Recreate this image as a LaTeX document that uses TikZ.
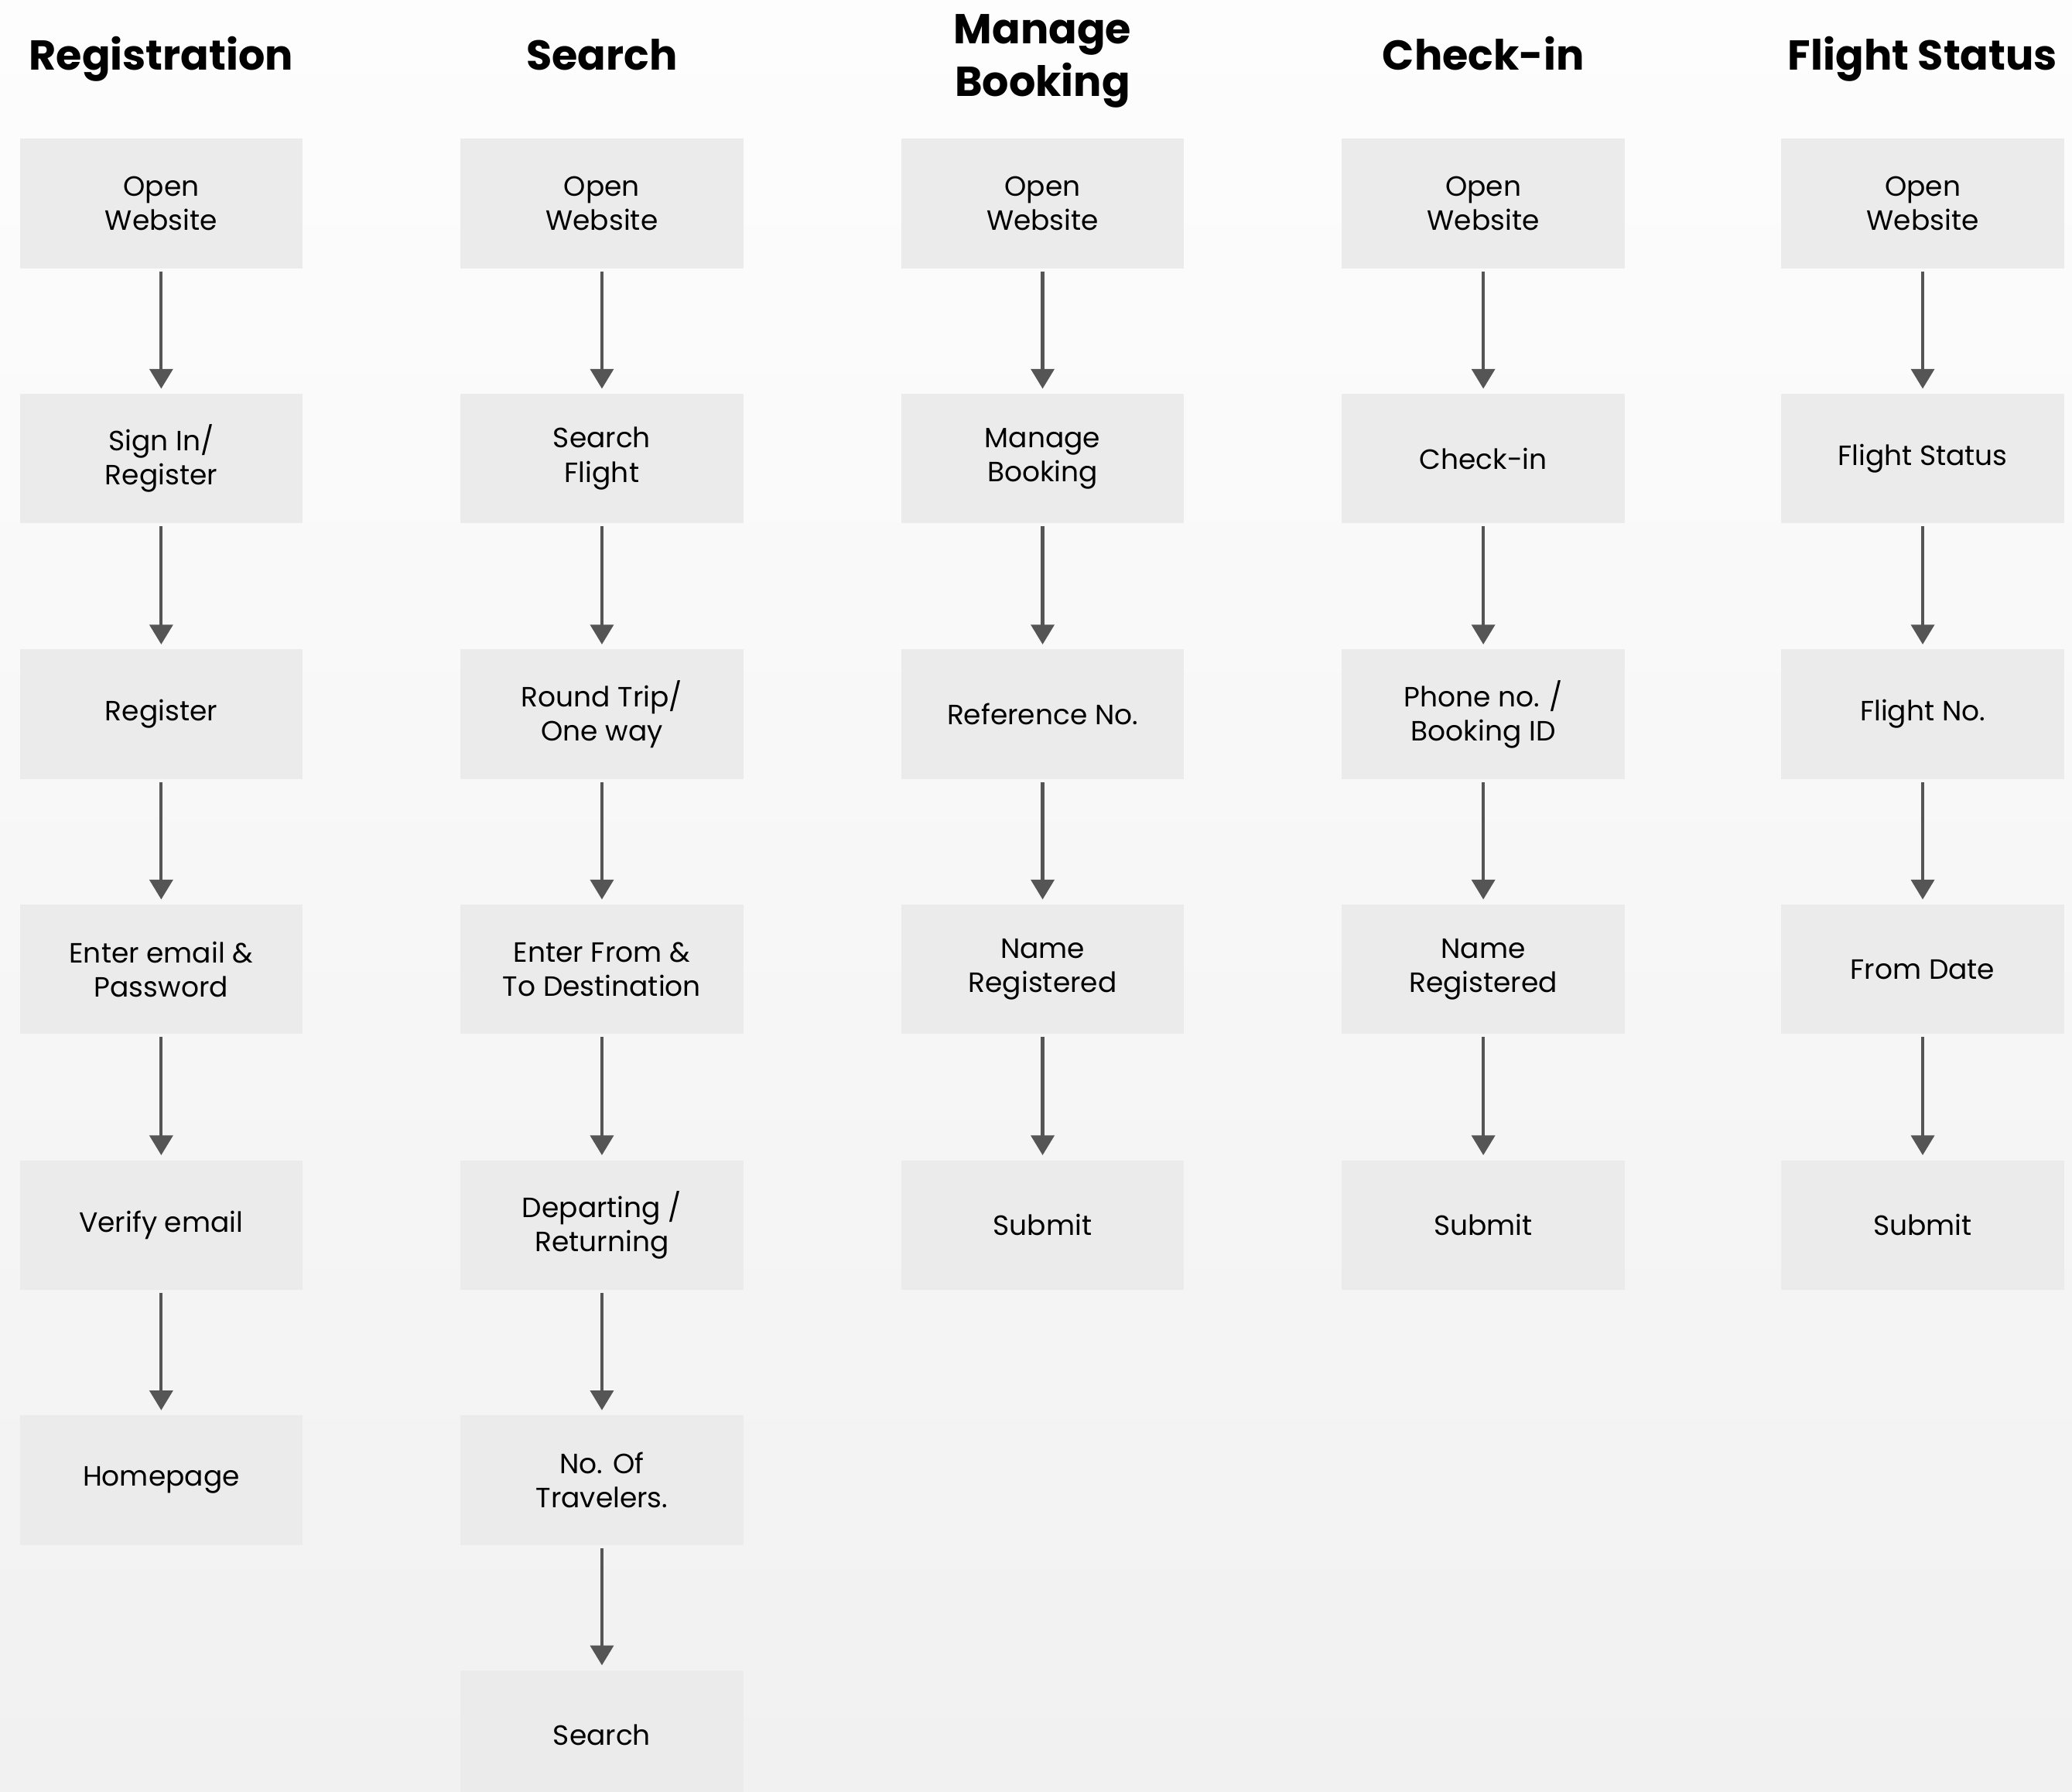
\documentclass[tikz,border=0pt]{standalone}
\usepackage{fontspec}
\setmainfont{Poppins}
\usepackage{tikz}
\usepackage{xcolor}
\usetikzlibrary{arrows.meta}

\definecolor{stepfill}{HTML}{EBEBEB}
\definecolor{flowarrow}{HTML}{555555}
\definecolor{bgtop}{HTML}{FDFDFD}
\definecolor{bgbottom}{HTML}{F1F1F1}

\tikzset{
  stepbox/.style={fill=stepfill,minimum width=4.28cm,minimum height=1.96cm,inner sep=0pt,align=center,font=\fontsize{12}{14.8}\selectfont},
  heading/.style={align=center,font=\fontsize{18}{22.7}\selectfont\bfseries},
  flow/.style={draw=flowarrow,line width=1.4pt,-{Triangle[length=0.3cm,width=0.35cm]},shorten <=0.04cm,shorten >=0.07cm}
}

\begin{document}
\begin{tikzpicture}[x=0.02cm,y=-0.02cm]
\useasboundingbox (0,0) rectangle (1568,1356);
\clip (0,0) rectangle (1568,1356);
\shade[top color=bgtop,bottom color=bgbottom] (0,0) rectangle (1568,1356);

% headings
\node[heading,anchor=base] (hreg) at (122,53) {Registration};
\node[heading,anchor=base] (hsrch) at (455.5,53) {Search};
\node[heading] (hmng) at (789,46) {Manage\\Booking};
\node[heading,anchor=base] (hchk) at (1122.5,53) {Check-in};
\node[heading,anchor=base] (hstat) at (1455,53) {Flight Status};

% registration
\node[stepbox] (reg1) at (122,154) {Open\\Website};
\node[stepbox] (reg2) at (122,347) {Sign In/\\Register};
\node[stepbox] (reg3) at (122,540.5) {Register};
\node[stepbox] (reg4) at (122,733.5) {Enter email \&\\Password};
\node[stepbox] (reg5) at (122,927) {Verify email};
\node[stepbox] (reg6) at (122,1120) {Homepage};
\draw[flow] (reg1) -- (reg2); \draw[flow] (reg2) -- (reg3); \draw[flow] (reg3) -- (reg4);
\draw[flow] (reg4) -- (reg5); \draw[flow] (reg5) -- (reg6);

% search
\node[stepbox] (srch1) at (455.5,154) {Open\\Website};
\node[stepbox] (srch2) at (455.5,347) {Search\\Flight};
\node[stepbox] (srch3) at (455.5,540.5) {Round Trip/\\One way};
\node[stepbox] (srch4) at (455.5,733.5) {Enter From \&\\To Destination};
\node[stepbox] (srch5) at (455.5,927) {Departing /\\Returning};
\node[stepbox] (srch6) at (455.5,1120) {No. Of\\Travelers.};
\node[stepbox] (srch7) at (455.5,1313) {Search};
\draw[flow] (srch1) -- (srch2); \draw[flow] (srch2) -- (srch3); \draw[flow] (srch3) -- (srch4);
\draw[flow] (srch4) -- (srch5); \draw[flow] (srch5) -- (srch6); \draw[flow] (srch6) -- (srch7);

% manage booking
\node[stepbox] (mng1) at (789,154) {Open\\Website};
\node[stepbox] (mng2) at (789,347) {Manage\\Booking};
\node[stepbox] (mng3) at (789,540.5) {Reference No.};
\node[stepbox] (mng4) at (789,733.5) {Name\\Registered};
\node[stepbox] (mng5) at (789,927) {Submit};
\draw[flow] (mng1) -- (mng2); \draw[flow] (mng2) -- (mng3); \draw[flow] (mng3) -- (mng4); \draw[flow] (mng4) -- (mng5);

% check-in
\node[stepbox] (chk1) at (1122.5,154) {Open\\Website};
\node[stepbox] (chk2) at (1122.5,347) {Check-in};
\node[stepbox] (chk3) at (1122.5,540.5) {Phone no. /\\Booking ID};
\node[stepbox] (chk4) at (1122.5,733.5) {Name\\Registered};
\node[stepbox] (chk5) at (1122.5,927) {Submit};
\draw[flow] (chk1) -- (chk2); \draw[flow] (chk2) -- (chk3); \draw[flow] (chk3) -- (chk4); \draw[flow] (chk4) -- (chk5);

% flight status
\node[stepbox] (stat1) at (1455,154) {Open\\Website};
\node[stepbox] (stat2) at (1455,347) {Flight Status};
\node[stepbox] (stat3) at (1455,540.5) {Flight No.};
\node[stepbox] (stat4) at (1455,733.5) {From Date};
\node[stepbox] (stat5) at (1455,927) {Submit};
\draw[flow] (stat1) -- (stat2); \draw[flow] (stat2) -- (stat3); \draw[flow] (stat3) -- (stat4); \draw[flow] (stat4) -- (stat5);
\end{tikzpicture}
\end{document}
